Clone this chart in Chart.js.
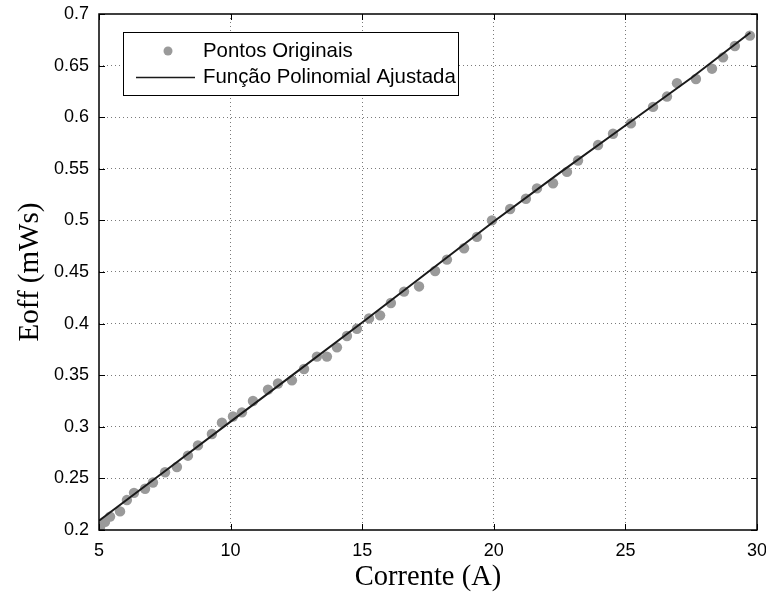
<!DOCTYPE html>
<html>
<head>
<meta charset="utf-8">
<script src="https://cdn.jsdelivr.net/npm/chart.js@4/dist/chart.umd.min.js"></script>
<style>
  html, body { margin: 0; padding: 0; background: #ffffff; }
  #wrap { width: 766px; height: 597px; position: relative; }
</style>
</head>
<body>
<div id="wrap"><canvas id="c"></canvas></div>
<script>
// Measured switching-off energy versus current
const currentA = [5.04, 5.23, 5.42, 5.80, 6.06, 6.33, 6.75, 7.05, 7.51, 7.96, 8.38, 8.76, 9.29, 9.67,
  10.09, 10.43, 10.85, 11.42, 11.80, 12.33, 12.79, 13.28, 13.66, 14.04, 14.42, 14.80, 15.26, 15.68,
  16.09, 16.59, 17.16, 17.77, 18.22, 18.87, 19.36, 19.93, 20.62, 21.22, 21.64, 22.25, 22.78, 23.20,
  23.96, 24.53, 25.21, 26.05, 26.58, 26.96, 27.68, 28.29, 28.71, 29.16, 29.73];
const eoffMWs = [0.203, 0.208, 0.213, 0.218, 0.229, 0.236, 0.240, 0.246, 0.256, 0.261, 0.272, 0.282, 0.293, 0.304,
  0.310, 0.314, 0.325, 0.336, 0.342, 0.345, 0.356, 0.368, 0.368, 0.377, 0.388, 0.395, 0.405, 0.408,
  0.420, 0.431, 0.436, 0.451, 0.462, 0.473, 0.484, 0.500, 0.511, 0.521, 0.531, 0.536, 0.547, 0.558,
  0.573, 0.584, 0.594, 0.610, 0.620, 0.633, 0.637, 0.647, 0.658, 0.669, 0.679];

// Fitted polynomial curve, sampled
const fitCurrentA = [5, 7.5, 10, 12.5, 15, 17.5, 20, 22.5, 25, 27.5, 29.75];
const fitEoffMWs = [0.209, 0.257, 0.305, 0.353, 0.401, 0.450, 0.499, 0.546, 0.592, 0.638, 0.682];

// Axis ticks
const xTickValues = [5, 10, 15, 20, 25, 30];
const xTickLabels = ['5', '10', '15', '20', '25', '30'];
const yTickValues = [0.2, 0.25, 0.3, 0.35, 0.4, 0.45, 0.5, 0.55, 0.6, 0.65, 0.7];
const yTickLabels = ['0.2', '0.25', '0.3', '0.35', '0.4', '0.45', '0.5', '0.55', '0.6', '0.65', '0.7'];

const seriesNames = ['Pontos Originais', 'Função Polinomial Ajustada'];

const pointColor = '#9a9a9a';
const lineColor = '#1a1a1a';
const sansFont = "'Liberation Sans', Arial, Helvetica, sans-serif";
const serifFont = "'Liberation Serif', 'Times New Roman', serif";

const gridColor = (ctx) => {
  const n = ctx.chart.scales[ctx.scale.id].ticks.length;
  return (ctx.index === 0 || ctx.index === n - 1) ? 'rgba(0,0,0,0)' : '#7a7a7a';
};

// Box around the plot area with inward tick marks
const frameAndTicks = {
  id: 'frameAndTicks',
  afterDatasetsDraw(chart) {
    const { ctx, chartArea: a, scales } = chart;
    const tl = 6;
    ctx.save();
    ctx.strokeStyle = '#000';
    ctx.lineWidth = 1;
    ctx.beginPath();
    xTickValues.forEach(v => {
      const x = Math.round(scales.x.getPixelForValue(v)) + 0.5;
      ctx.moveTo(x, a.bottom); ctx.lineTo(x, a.bottom - tl);
      ctx.moveTo(x, a.top); ctx.lineTo(x, a.top + tl);
    });
    yTickValues.forEach(v => {
      const y = Math.round(scales.y.getPixelForValue(v)) + 0.5;
      ctx.moveTo(a.left, y); ctx.lineTo(a.left + tl, y);
      ctx.moveTo(a.right, y); ctx.lineTo(a.right - tl, y);
    });
    ctx.stroke();
    ctx.lineWidth = 1.5;
    ctx.strokeRect(a.left, a.top, a.right - a.left, a.bottom - a.top);
    ctx.restore();
  }
};

// Legend box drawn inside the plot area
const insideLegend = {
  id: 'insideLegend',
  afterDraw(chart) {
    const { ctx } = chart;
    const box = { x: 123, y: 32, w: 335, h: 63 };
    ctx.save();
    ctx.fillStyle = '#ffffff';
    ctx.fillRect(box.x, box.y, box.w, box.h);
    ctx.strokeStyle = '#000';
    ctx.lineWidth = 1;
    ctx.strokeRect(box.x + 0.5, box.y + 0.5, box.w, box.h);
    ctx.fillStyle = pointColor;
    ctx.beginPath();
    ctx.arc(168, 51, 4.5, 0, Math.PI * 2);
    ctx.fill();
    ctx.strokeStyle = lineColor;
    ctx.lineWidth = 1.5;
    ctx.beginPath();
    ctx.moveTo(136, 77.5); ctx.lineTo(195, 77.5);
    ctx.stroke();
    ctx.fillStyle = '#000';
    ctx.font = '20.4px ' + sansFont;
    ctx.textBaseline = 'middle';
    ctx.textAlign = 'left';
    ctx.fillText(seriesNames[0], 203, 51);
    ctx.fillText(seriesNames[1], 203, 77);
    ctx.restore();
  }
};

new Chart(document.getElementById('c'), {
  type: 'scatter',
  data: {
    datasets: [
      {
        label: seriesNames[1],
        data: fitCurrentA.map((x, i) => ({ x, y: fitEoffMWs[i] })),
        showLine: true,
        borderColor: lineColor,
        borderWidth: 2,
        pointRadius: 0,
        fill: false,
        order: 0
      },
      {
        label: seriesNames[0],
        data: currentA.map((x, i) => ({ x, y: eoffMWs[i] })),
        showLine: false,
        backgroundColor: pointColor,
        borderColor: pointColor,
        borderWidth: 0,
        pointRadius: 5.2,
        order: 1
      }
    ]
  },
  options: {
    responsive: true,
    maintainAspectRatio: false,
    animation: false,
    layout: { padding: { top: 14, right: 9, bottom: 0, left: 0 } },
    plugins: { legend: { display: false }, tooltip: { enabled: false } },
    scales: {
      x: {
        type: 'linear',
        min: 5, max: 30,
        afterBuildTicks: s => { s.ticks = xTickValues.map(v => ({ value: v })); },
        afterFit: s => { s.height = 67; s.paddingLeft = 0; s.paddingRight = 0; },
        ticks: {
          callback: (v, i) => xTickLabels[i],
          color: '#000',
          font: { family: sansFont, size: 18 },
          padding: 10,
          maxRotation: 0,
          autoSkip: false
        },
        grid: { color: gridColor, drawTicks: false, lineWidth: 1 },
        border: { display: false, dash: [1, 3] },
        title: {
          display: true,
          text: 'Corrente (A)',
          color: '#000',
          font: { family: serifFont, size: 28.5 },
          padding: 2
        }
      },
      y: {
        type: 'linear',
        min: 0.2, max: 0.7,
        afterBuildTicks: s => { s.ticks = yTickValues.map(v => ({ value: v })); },
        afterFit: s => { s.width = 99; s.paddingTop = 0; s.paddingBottom = 0; },
        ticks: {
          callback: (v, i) => yTickLabels[i],
          color: '#000',
          font: { family: sansFont, size: 18 },
          padding: 10,
          autoSkip: false
        },
        grid: { color: gridColor, drawTicks: false, lineWidth: 1 },
        border: { display: false, dash: [1, 3] },
        title: {
          display: true,
          text: 'Eoff (mWs)',
          color: '#000',
          font: { family: serifFont, size: 29 },
          padding: 13
        }
      }
    }
  },
  plugins: [frameAndTicks, insideLegend]
});
</script>
</body>
</html>
